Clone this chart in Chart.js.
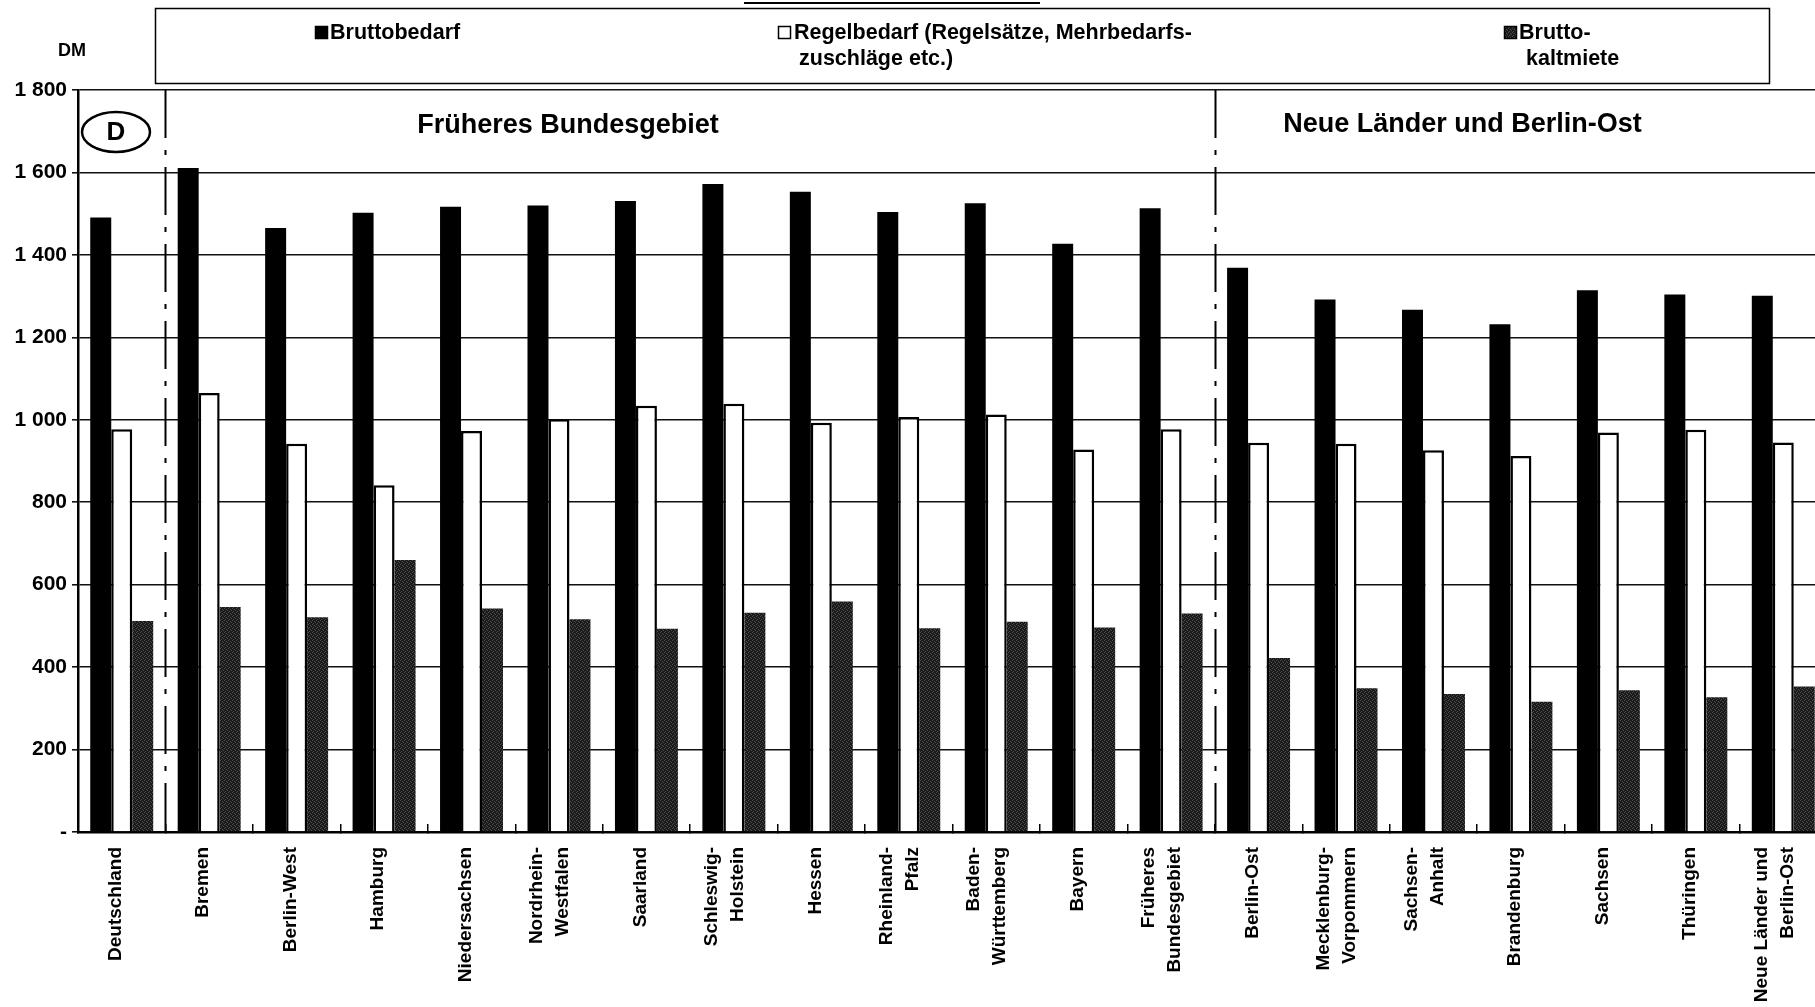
<!DOCTYPE html>
<html lang="de">
<head>
<meta charset="utf-8">
<title>Bruttobedarf nach Ländern</title>
<script src="https://cdn.jsdelivr.net/npm/chart.js@4.4.1/dist/chart.umd.min.js"></script>
<style>
  html, body { margin: 0; padding: 0; background: #fff; overflow: hidden; }
  #wrap { position: relative; width: 1832px; height: 1007px; }
</style>
</head>
<body>
<div id="wrap"><canvas id="bedarfChart" width="1832" height="1007"></canvas></div>
<script>
// Länder, mehrzeilige Beschriftungen als Arrays
const categories = [
  "Deutschland", "Bremen", "Berlin-West", "Hamburg", "Niedersachsen",
  ["Nordrhein-", "Westfalen"], "Saarland", ["Schleswig-", "Holstein"], "Hessen",
  ["Rheinland-", "Pfalz"], ["Baden-", "Württemberg"], "Bayern",
  ["Früheres", "Bundesgebiet"], "Berlin-Ost", ["Mecklenburg-", "Vorpommern"],
  ["Sachsen-", "Anhalt"], "Brandenburg", "Sachsen", "Thüringen",
  ["Neue Länder und", "Berlin-Ost"]
];

// DM je Monat
const bruttobedarf = [1491, 1611, 1465, 1502, 1517, 1520, 1531, 1572, 1553, 1504,
                      1525, 1427, 1513, 1369, 1292, 1267, 1232, 1314, 1304, 1301];
const regelbedarf = [977, 1065, 942, 841, 973, 1001, 1034, 1039, 993, 1007,
                     1013, 928, 977, 944, 942, 926, 912, 969, 976, 945];
const bruttokaltmiete = [512, 546, 521, 660, 542, 516, 493, 532, 559, 494,
                         510, 496, 530, 422, 349, 335, 316, 344, 327, 353];

const legendLines = [
  ["Bruttobedarf"],
  ["Regelbedarf (Regelsätze, Mehrbedarfs-", "zuschläge etc.)"],
  ["Brutto-", "kaltmiete"]
];
const sectionTitles = ["Früheres Bundesgebiet", "Neue Länder und Berlin-Ost"];
const sectionStarts = [1, 13];   // erste Kategorie nach einer Trennlinie
const yUnit = "DM";

const FONT = '"Liberation Sans", Arial, Helvetica, sans-serif';
Chart.defaults.font.family = FONT;
Chart.defaults.color = "#000";

const canvas = document.getElementById("bedarfChart");
const ctx = canvas.getContext("2d");

// gesprenkelte Füllung für die Bruttokaltmiete
function speckle() {
  const c = document.createElement("canvas");
  c.width = 4; c.height = 4;
  const g = c.getContext("2d");
  g.fillStyle = "#1a1a1a";
  g.fillRect(0, 0, 4, 4);
  g.fillStyle = "#4d4d4d";
  [[0, 0], [2, 1], [1, 3], [3, 2]].forEach(([px, py]) => g.fillRect(px, py, 1, 1));
  return ctx.createPattern(c, "repeat");
}
const mieteFill = speckle();

function fmtDM(v) {
  if (v === 0) return "-";
  if (v >= 1000) return Math.floor(v / 1000) + " " + String(v % 1000).padStart(3, "0");
  return String(v);
}

const decor = {
  id: "decor",
  afterDraw(chart) {
    const { ctx, chartArea: a, scales: { x, y } } = chart;
    ctx.save();
    ctx.fillStyle = "#000";
    ctx.strokeStyle = "#000";

    // Kategorienbeschriftung, senkrecht
    ctx.font = `bold 19px ${FONT}`;
    ctx.textAlign = "right";
    ctx.textBaseline = "middle";
    categories.forEach((lab, i) => {
      const lines = [].concat(lab);
      const cx = x.getPixelForValue(i) + (lines.length > 1 ? -9 : -6);
      lines.forEach((t, k) => {
        const lx = cx + (k - (lines.length - 1) / 2) * 26;
        ctx.save();
        ctx.translate(lx, a.bottom + 15);
        ctx.rotate(-Math.PI / 2);
        ctx.fillText(t, 0, 0);
        ctx.restore();
      });
    });

    // Trennlinien zwischen Gebietsständen
    ctx.lineWidth = 2;
    ctx.setLineDash([48, 12, 5, 12]);
    sectionStarts.forEach(i => {
      const sx = Math.round((x.getPixelForValue(i - 1) + x.getPixelForValue(i)) / 2) + 0.5;
      ctx.beginPath();
      ctx.moveTo(sx, a.top);
      ctx.lineTo(sx, a.bottom + 8);
      ctx.stroke();
    });
    ctx.setLineDash([]);

    // Überschriften der Gebiete
    ctx.font = `bold 27px ${FONT}`;
    ctx.textAlign = "center";
    ctx.fillText(sectionTitles[0], x.getPixelForValue(5) + 9, a.top + 36);
    ctx.fillText(sectionTitles[1], x.getPixelForValue(15) + 29, a.top + 35);

    // "D"-Kennzeichen
    ctx.lineWidth = 2.5;
    ctx.beginPath();
    ctx.ellipse(a.left + 38, a.top + 42, 34, 20, 0, 0, Math.PI * 2);
    ctx.stroke();
    ctx.font = `bold 26px ${FONT}`;
    ctx.fillText("D", a.left + 38, a.top + 43);

    // Einheit
    ctx.font = `bold 18px ${FONT}`;
    ctx.fillText(yUnit, 72, 51);

    // Linie der abgeschnittenen Überschrift
    ctx.lineWidth = 2;
    ctx.beginPath();
    ctx.moveTo(744, 3);
    ctx.lineTo(1040, 3);
    ctx.stroke();

    // Legende
    ctx.lineWidth = 1.5;
    ctx.strokeRect(155.5, 8.5, 1614, 75);
    const fills = ["#000", "#fff", mieteFill];
    const keyX = [315, 778, 1504];
    const indent = [[330], [794, 799], [1519, 1526]];
    ctx.font = `bold 21.5px ${FONT}`;
    ctx.textAlign = "left";
    legendLines.forEach((lines, n) => {
      ctx.fillStyle = fills[n];
      ctx.fillRect(keyX[n], 26, 13, 13);
      ctx.lineWidth = 1.5;
      ctx.strokeRect(keyX[n] + 0.5, 26.5, 12, 12);
      ctx.fillStyle = "#000";
      lines.forEach((t, k) => ctx.fillText(t, indent[n][k], 33 + k * 26));
    });

    ctx.restore();
  }
};

new Chart(ctx, {
  type: "bar",
  data: {
    labels: categories,
    datasets: [
      {
        label: legendLines[0].join(" "),
        data: bruttobedarf,
        backgroundColor: "#000",
        borderWidth: 0
      },
      {
        label: "Regelbedarf (Regelsätze, Mehrbedarfszuschläge etc.)",
        data: regelbedarf,
        backgroundColor: "#fff",
        borderColor: "#000",
        borderWidth: 2.5
      },
      {
        label: "Bruttokaltmiete",
        data: bruttokaltmiete,
        backgroundColor: mieteFill,
        borderWidth: 0
      }
    ]
  },
  options: {
    responsive: false,
    animation: false,
    datasets: { bar: { categoryPercentage: 0.72, barPercentage: 1 } },
    layout: { padding: { top: 90, right: 5, left: 0, bottom: 0 } },
    plugins: {
      legend: { display: false },
      tooltip: { enabled: false }
    },
    scales: {
      x: {
        ticks: { display: false },
        grid: {
          display: true,
          drawOnChartArea: false,
          drawTicks: true,
          tickLength: -8,
          color: "#000",
          lineWidth: 1.5
        },
        border: { display: true, color: "#000", width: 2.5 },
        afterFit(s) { s.height = 175; }
      },
      y: {
        min: 0,
        max: 1800,
        ticks: {
          stepSize: 200,
          padding: 5,
          color: "#000",
          font: { size: 21, weight: "bold" },
          callback: v => fmtDM(v)
        },
        grid: { color: "#111", lineWidth: 1.6, tickLength: 6 },
        border: { display: true, color: "#000", width: 2.5 },
        afterFit(s) { s.width = 78; }
      }
    }
  },
  plugins: [decor]
});
</script>
</body>
</html>
